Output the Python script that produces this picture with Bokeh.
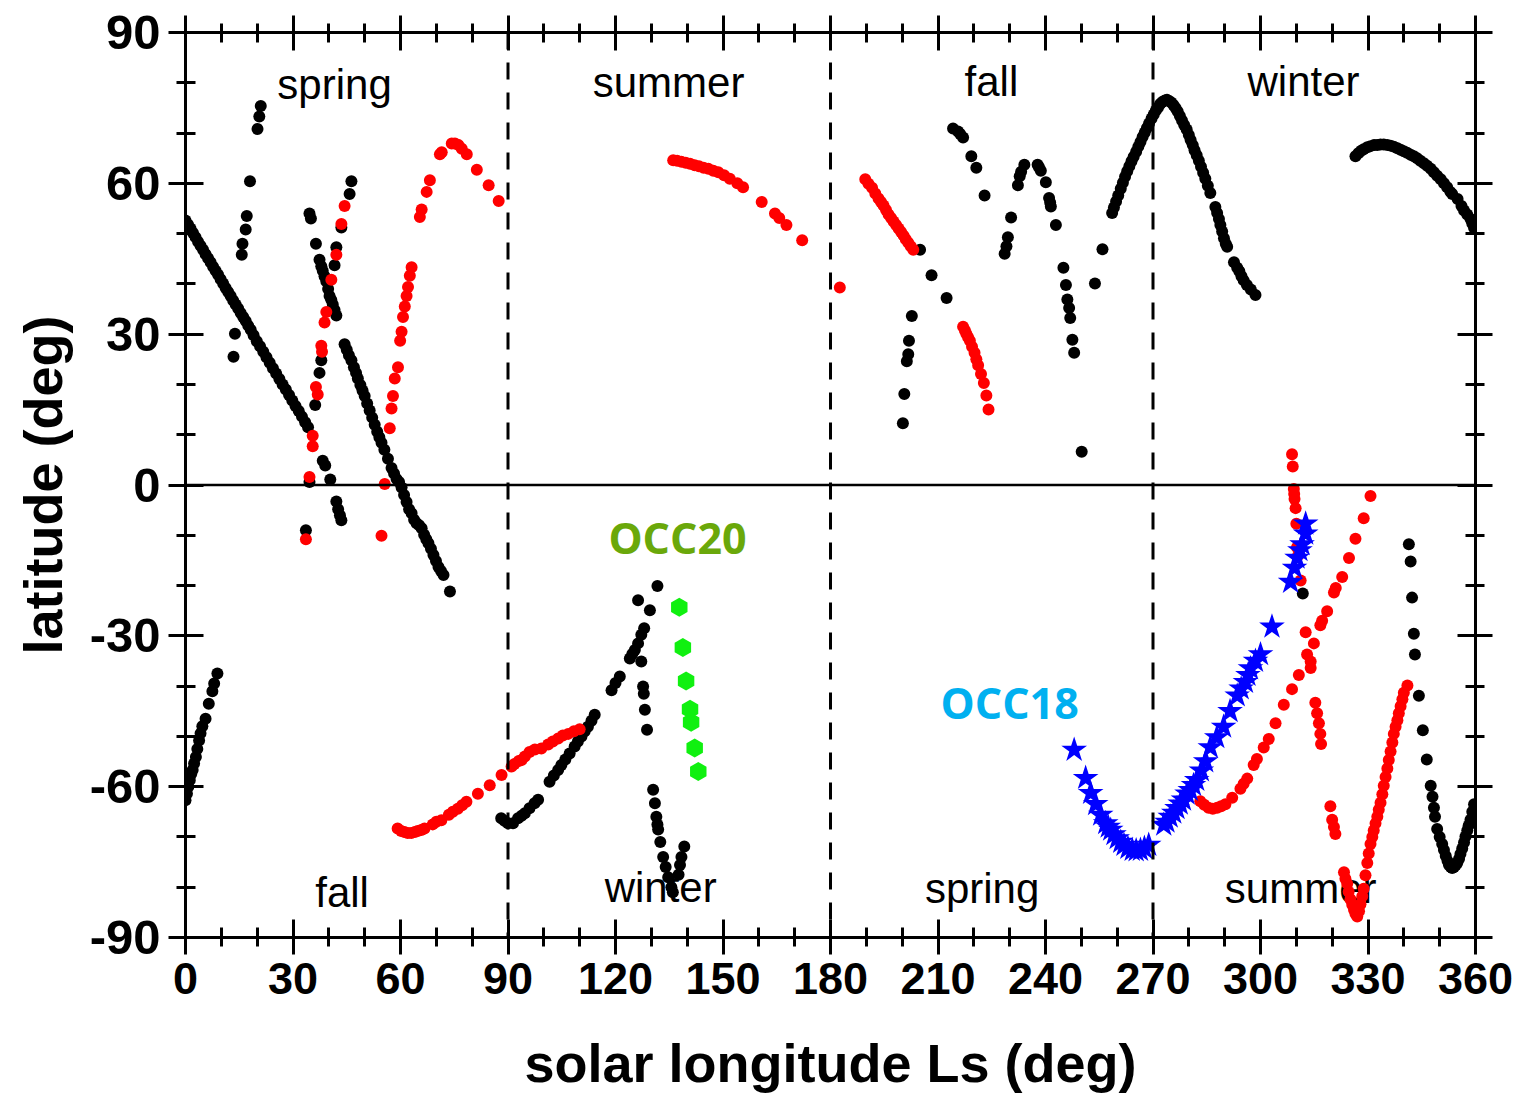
from bokeh.plotting import figure
from bokeh.models import LinearAxis, SingleIntervalTicker, Span, Range1d
from bokeh.embed import file_html
from bokeh.resources import INLINE
from bokeh.core.properties import value
import math

# ---------------- data ----------------
black_ls = [
    0, 0.7, 1.4, 2.1, 2.8, 3.5, 4.2, 4.9, 5.6, 6.3, 7.0, 7.7, 8.4, 9.1, 9.8, 10.5, 11.2, 11.9, 12.6, 13.3, 14.0, 14.7, 15.4, 16.1, 16.8, 17.5, 18.2,
    19.0, 19.9, 20.8, 21.7, 22.6, 23.5, 24.4, 25.3, 26.2, 27.1, 28.0, 28.9, 29.8, 30.7, 31.6, 32.5, 33.4, 34.2,
    38.3, 39.0, 40.4, 42.1, 42.6, 43.1, 43.5,
    44.4, 45.0, 45.6, 46.3, 47.0, 47.6, 48.1, 48.8, 49.4, 50.0, 50.7, 51.4, 52.1, 52.8, 53.5, 54.1, 54.7, 55.5, 56.5,
    57.5, 58.2, 58.9, 59.6, 60.3, 61.0, 61.7, 62.4, 63.1, 63.8, 64.5, 65.2, 65.9, 66.6, 67.2, 67.8, 68.5, 69.2, 69.9, 70.6, 71.3, 72.0, 73.8,
    34.6, 35.0, 36.4, 37.4, 37.9, 38.3, 38.8, 39.3, 39.8, 40.2, 40.7, 41.1, 41.6, 42.1,
    33.6, 34.6, 36.2, 37.4, 37.9, 41.6, 42.1, 43.5, 45.8, 46.3,
    13.4, 13.8, 15.7, 15.9, 16.8, 17.1, 18.0, 20.1, 20.6, 21.0,
    0.0, 0.4, 0.8, 1.2, 1.6, 2.0, 2.4, 2.9, 3.3, 3.8, 4.2, 4.7, 5.6, 6.5, 7.5, 8.0, 8.9,
    88.1, 89.0, 90.0, 91.4, 92.8, 93.8, 94.7, 96.0, 97.4, 98.4, 101.6, 102.8, 104.0, 104.9, 106.0, 107.2, 108.6, 109.5, 110.5, 111.4, 112.3, 113.3, 114.2,
    118.9, 120.0, 121.2, 124.0, 124.7, 125.4, 126.3, 127.2, 128.0, 126.3, 129.6, 131.7,
    127.2, 127.7, 127.9, 128.2, 128.8, 130.5, 131.0, 131.4, 131.7, 131.9, 132.5, 133.3, 134.0, 134.7, 135.6, 136.0, 137.6, 138.0, 138.4, 139.2,
    200.2, 200.6, 201.3, 201.7, 201.9, 202.7, 205.0, 208.2, 212.4, 214.2, 215.6, 216.2, 217.0, 219.3, 220.7, 223.0,
    228.6, 229.1, 229.5, 230.4, 232.3, 232.8, 233.2, 234.1, 237.8, 238.2, 238.7, 240.1, 241.0, 241.3, 241.5, 242.9,
    245.0, 245.7, 246.1, 246.6, 246.9, 247.5, 248.0, 250.1, 253.8, 255.9,
    258.6, 259.1, 259.7, 260.3, 261.0, 261.6, 262.2, 262.8, 263.4, 264.0, 264.6, 265.3, 265.9, 266.5, 267.1, 267.7, 268.3, 268.9, 269.6, 270.2,
    270.8, 271.4, 272.0, 272.6, 273.3, 273.9, 274.5, 275.1, 275.7, 276.3, 276.9, 277.5, 278.1, 278.7, 279.4, 280.0, 280.5, 281.1, 281.6, 282.2,
    282.8, 283.4, 284.0, 284.6, 285.3, 286.0,
    287.4, 287.9, 288.4, 288.8, 289.3, 289.8, 290.3, 290.7,
    292.6, 293.5, 294.1, 294.7, 295.3, 296.2, 297.3, 298.6,
    311.8,
    326.5, 327.3, 328.1, 328.8, 329.8, 330.7, 331.7, 332.6, 333.5, 334.4, 335.4, 336.3, 337.2, 338.2, 339.1, 340.0, 340.9, 341.9, 342.8, 343.7,
    344.6, 345.6, 346.5, 347.5, 348.4, 349.3, 350.3, 351.2, 352.1, 353.0, 353.5, 355.0, 356.1, 356.8, 357.7, 358.6, 359.1, 359.6,
    341.4, 341.9, 342.3, 342.8, 343.1, 344.2, 345.3, 346.4, 347.5, 348.0, 348.4, 348.7, 349.3, 350.0, 350.7, 351.2, 351.7, 352.2, 352.6, 353.1,
    353.5, 354.0, 354.5, 354.9, 355.4, 355.8, 356.3, 356.8, 357.2, 357.7, 358.1, 358.6, 359.1, 359.6,
]
black_lat = [
    52.6, 51.8, 51.0, 50.1, 49.3, 48.4, 47.6, 46.8, 45.9, 45.1, 44.3, 43.4, 42.6, 41.8, 40.9, 40.1, 39.2, 38.4, 37.6, 36.7, 35.9, 35.1, 34.2, 33.4, 32.6, 31.7, 30.9,
    29.8, 28.6, 27.6, 26.5, 25.4, 24.3, 23.2, 22.2, 21.1, 20.0, 19.0, 17.9, 16.8, 15.7, 14.7, 13.6, 12.5, 11.5,
    4.8, 3.9, 1.1, -3.3, -4.8, -6.0, -7.0,
    28.0, 26.9, 25.8, 24.8, 23.4, 22.3, 21.2, 19.9, 18.8, 17.7, 16.2, 14.8, 13.4, 12.0, 10.6, 9.5, 8.4, 7.0, 5.2,
    3.4, 2.3, 1.2, 0.6, -0.5, -2.0, -3.4, -4.8, -5.6, -6.9, -7.6, -8.0, -8.6, -9.9, -10.8, -11.6, -12.7, -13.9, -15.1, -16.3, -17.1, -17.9, -21.2,
    54.0, 53.0, 48.0, 44.8, 43.5, 42.6, 41.5, 40.5, 39.0, 37.6, 36.8, 35.9, 34.8, 33.7,
    -9.0, 0.6, 15.9, 22.3, 24.8, 43.7, 47.3, 51.2, 57.9, 60.4,
    25.5, 30.1, 45.8, 48.0, 50.8, 53.5, 60.4, 70.8, 73.3, 75.4,
    -62.7, -61.4, -60.0, -58.7, -57.5, -56.7, -55.4, -54.1, -52.5, -50.8, -49.4, -48.0, -46.5, -43.5, -41.0, -39.5, -37.5,
    -66.3, -66.8, -67.3, -67.3, -66.3, -65.8, -65.3, -64.3, -63.3, -62.6, -59.0, -57.8, -56.7, -55.7, -54.6, -53.4, -52.0, -51.0, -50.0, -49.0, -48.1, -46.9, -45.7,
    -40.8, -39.4, -38.1, -34.5, -33.6, -32.8, -31.5, -29.8, -28.5, -22.9, -24.9, -20.1,
    -35.1, -40.1, -41.5, -44.7, -48.7, -60.6, -63.3, -66.0, -67.5, -68.5, -71.0, -74.0, -76.0, -78.0, -80.0, -81.0, -77.5, -75.6, -74.0, -71.9,
    12.3, 18.1, 24.6, 26.0, 28.7, 33.6, 46.8, 41.7, 37.2, 70.9, 70.3, 69.8, 69.1, 65.4, 63.1, 57.6,
    46.0, 47.5, 49.3, 53.2, 59.6, 61.4, 62.3, 63.7, 63.7, 63.2, 62.5, 60.2, 57.1, 56.2, 55.4, 51.7,
    43.2, 39.8, 36.9, 35.2, 33.2, 28.9, 26.3, 6.6, 40.1, 46.9,
    54.1, 55.2, 56.4, 57.6, 58.9, 60.1, 61.3, 62.4, 63.4, 64.4, 65.3, 66.3, 67.3, 68.2, 69.2, 70.1, 71.0, 71.9, 72.9, 73.7,
    74.5, 75.1, 75.8, 76.2, 76.5, 76.6, 76.4, 76.1, 75.6, 75.0, 74.3, 73.4, 72.5, 71.6, 70.7, 69.6, 68.6, 67.6, 66.6, 65.6,
    64.5, 63.3, 62.1, 60.9, 59.5, 58.1,
    55.3, 54.1, 52.9, 51.7, 50.4, 49.1, 48.0, 47.4,
    44.3, 43.2, 42.5, 41.5, 40.7, 39.8, 38.9, 37.8,
    -21.6,
    65.4, 66.0, 66.5, 66.8, 67.2, 67.4, 67.6, 67.6, 67.7, 67.7, 67.6, 67.5, 67.3, 67.0, 66.7, 66.4, 66.1, 65.7, 65.4, 65.0,
    64.5, 64.0, 63.5, 62.9, 62.2, 61.5, 60.8, 60.0, 59.2, 58.3, 57.9, 56.9, 55.5, 54.6, 53.8, 52.9, 52.0, 51.1,
    -11.8, -15.2, -22.4, -29.6, -33.7, -41.9, -48.8, -54.6, -59.8, -62.0, -64.2, -66.0, -68.4, -70.0, -71.4, -72.6, -73.8, -74.8, -75.6, -76.0,
    -76.2, -76.0, -75.6, -75.2, -74.4, -73.4, -72.3, -71.1, -69.9, -68.7, -67.7, -66.6, -65.0, -63.5,
]

red_ls = [
    33.6, 34.6, 35.5, 35.5, 36.4, 36.9, 37.9, 38.1, 38.8, 39.3, 40.7, 42.1, 43.5, 44.4,
    54.7, 55.6,
    57.0, 57.5, 57.9, 58.4, 59.3, 59.9, 60.3, 60.7, 61.2, 61.7, 62.1, 62.6, 63.1,
    65.4, 65.9, 67.3, 68.2, 71.0, 71.5, 74.3, 75.2, 76.2, 77.1, 78.5, 81.3, 84.6, 87.4,
    59.2, 60.2, 61.1, 62.0, 63.0, 64.0, 64.8, 65.8, 66.7, 69.0, 70.0, 71.4, 73.5, 74.6, 76.0, 77.2, 78.4, 81.6, 84.9, 88.2,
    91.0, 91.8, 93.0, 93.8, 94.7, 96.0, 97.5, 99.3, 101.2, 102.5, 104.0, 105.3, 106.8, 108.4, 110.0,
    136.1, 137.2, 138.4, 139.6, 140.8, 142.1, 143.3, 144.6, 145.9, 147.3, 148.7, 150.3, 151.9, 154.0, 155.6, 160.8, 164.5, 165.7, 167.7, 172.1, 182.6,
    189.7, 190.6, 191.6, 192.5, 193.4, 194.1, 194.8, 195.5, 196.2, 196.9, 197.6, 198.3, 199.0, 199.7, 200.4, 201.0, 201.7, 202.4, 203.1,
    217.0, 217.5, 217.9, 218.4, 218.9, 219.5, 220.2, 220.7, 221.2, 222.0, 222.8, 223.5, 224.1,
    308.8, 309.0, 309.3, 309.4, 309.5, 309.8, 310.0, 310.2, 310.5, 311.2,
    312.6, 314.0, 314.0, 315.3, 315.8, 316.3, 316.7, 316.9, 319.5, 320.0, 320.5, 320.9,
    283.2, 284.3, 285.5, 286.7, 287.9, 289.0, 290.2, 292.1, 294.4, 295.3, 296.3, 298.1, 299.0, 300.9, 302.3, 304.2, 306.5, 308.8, 310.7, 313.0,
    314.9, 316.7, 317.2, 318.6, 320.5, 321.0, 322.8, 324.7, 326.5, 328.8, 330.7,
    323.3, 323.7, 324.2, 324.6, 325.1, 325.6, 326.1, 326.5, 327.0, 327.5, 327.9, 328.4, 328.8, 329.3, 329.8, 330.2, 330.7, 331.2, 331.6, 332.1,
    332.6, 333.0, 333.5, 334.0, 334.4, 334.9, 335.4, 335.8, 336.3, 336.8, 337.2, 337.7, 338.2, 338.6, 339.1, 339.6, 340.0, 341.0,
]
red_lat = [
    -10.8, 1.6, 7.7, 9.8, 19.5, 18.0, 27.7, 26.5, 32.3, 34.4, 40.8, 45.8, 51.9, 55.5,
    -10.1, 0.2,
    11.3, 15.2, 17.7, 21.2, 23.4, 28.7, 30.5, 33.4, 35.5, 37.6, 39.4, 41.6, 43.3,
    53.3, 54.8, 58.3, 60.6, 65.8, 66.2, 67.9, 67.9, 67.6, 66.9, 65.8, 62.7, 59.6, 56.5,
    -68.3, -68.8, -69.0, -69.2, -69.2, -69.0, -68.8, -68.6, -68.3, -67.5, -67.0, -66.7, -65.6, -65.0, -64.4, -63.7, -63.0, -61.4, -59.7, -57.7,
    -56.0, -55.5, -54.9, -54.7, -54.0, -53.1, -52.6, -52.4, -51.6, -51.0, -50.4, -49.8, -49.5, -49.0, -48.6,
    64.6, 64.5, 64.3, 64.1, 63.9, 63.6, 63.4, 63.1, 62.9, 62.5, 62.2, 61.6, 60.9, 60.0, 59.2, 56.3, 54.0, 53.1, 51.7, 48.7, 39.3,
    60.8, 59.9, 59.1, 58.0, 57.0, 56.3, 55.6, 54.7, 53.8, 53.1, 52.4, 51.7, 51.0, 50.3, 49.6, 48.9, 48.2, 47.5, 46.8,
    31.5, 30.8, 30.1, 29.4, 28.7, 27.5, 26.3, 25.0, 23.8, 22.1, 20.3, 17.8, 15.0,
    6.1, 3.7, -0.8, -1.8, -2.8, -4.6, -7.7, -12.4, -14.0, -19.0,
    -29.3, -35.1, -36.4, -43.3, -45.4, -47.4, -49.5, -51.5, -63.9, -66.6, -68.0, -69.4,
    -62.9, -63.6, -64.2, -64.4, -64.2, -63.9, -63.5, -62.2, -60.4, -59.4, -58.4, -55.7, -54.5, -52.2, -50.5, -47.4, -43.7, -40.6, -37.8, -33.7,
    -31.5, -27.9, -27.0, -25.1, -21.4, -20.5, -18.3, -14.5, -10.7, -6.6, -2.2,
    -77.0, -78.3, -79.3, -80.9, -82.4, -83.5, -84.5, -85.3, -85.8, -84.8, -83.4, -81.8, -80.3, -77.6, -75.2, -73.3, -71.4, -70.0, -68.7, -67.3,
    -66.0, -64.6, -63.2, -61.5, -59.8, -58.1, -56.4, -54.7, -53.0, -51.2, -49.5, -48.1, -46.8, -45.4, -44.0, -42.6, -41.3, -39.9,
]

occ18_ls = [248.0, 251.2, 252.6, 254.0, 255.4, 256.8, 257.5, 258.2, 259.1, 260.0, 261.0, 261.9, 263.0, 264.2, 265.3, 266.5, 267.6, 268.8,
            273.0, 273.9, 274.8, 275.8, 276.7, 277.6, 278.5, 279.5, 280.4, 281.3, 282.2, 283.5, 284.7, 286.0, 287.8, 289.7, 291.5,
            293.5, 294.6, 295.8, 296.5, 297.2, 298.6, 300.0, 303.2, 308.4, 309.5, 310.2, 311.0, 311.6, 312.6, 312.6]
occ18_lat = [-52.7, -58.3, -61.3, -63.5, -65.6, -67.3, -68.0, -68.6, -69.5, -70.3, -71.0, -71.6, -72.2, -72.6, -72.7, -72.6, -72.2, -71.6,
             -67.6, -67.0, -66.0, -65.2, -64.3, -63.4, -62.6, -61.4, -60.7, -59.7, -58.7, -56.8, -55.0, -52.2, -50.2, -48.1, -45.0,
             -41.9, -40.5, -39.2, -37.8, -36.5, -35.0, -33.7, -28.2, -19.3, -16.5, -14.5, -13.0, -11.8, -9.7, -7.7]

occ20_ls = [137.8, 138.8, 139.7, 140.8, 141.1, 142.1, 143.1]
occ20_lat = [-24.3, -32.3, -39.0, -44.6, -47.2, -52.3, -57.0]

season_text = ["spring", "summer", "fall", "winter", "fall", "winter", "spring", "summer"]
season_ls = [41.6, 134.8, 224.9, 312.0, 43.7, 132.6, 222.3, 311.2]
season_lat = [79.7, 80.1, 80.3, 80.3, -81.0, -80.0, -80.3, -80.2]

occ_text = ["OCC20", "OCC18"]
occ_ls = [137.3, 230.0]
occ_lat = [-10.5, -43.3]
occ_color = ["#6aa80a", "#00b0f0"]

season_bounds = [90, 180, 270]
y_tick_labels = {-90: "-90", -60: "-60", -30: "-30", 0: "0", 30: "30", 60: "60", 90: "90"}
x_ticks_major = 30
y_ticks_major = 30

# ---------------- figure ----------------
AXFONT = "Liberation Sans"

p = figure(width=1522, height=1097, x_range=Range1d(0, 360), y_range=Range1d(-90, 90),
           output_backend="svg", toolbar_location=None,
           x_axis_location=None, y_axis_location=None,
           min_border_left=185, min_border_right=47, min_border_top=32, min_border_bottom=160)
p.outline_line_color = None
p.background_fill_color = "white"
p.border_fill_color = "white"
for g in p.grid:
    g.visible = False


def style_axis(ax, labels=True, lab_size="48px"):
    ax.axis_line_width = 3
    ax.axis_line_color = "black"
    ax.major_tick_line_width = 3
    ax.minor_tick_line_width = 3
    ax.major_tick_line_color = "black"
    ax.minor_tick_line_color = "black"
    ax.major_tick_in = 18
    ax.major_tick_out = 17
    ax.minor_tick_in = 10
    ax.minor_tick_out = 9
    if labels:
        ax.major_label_text_font = AXFONT
        ax.major_label_text_font_style = "bold"
        ax.major_label_text_font_size = lab_size
        ax.major_label_text_color = "black"
    else:
        ax.major_label_text_font_size = "1px"
        ax.major_label_text_color = None


xb = LinearAxis(ticker=SingleIntervalTicker(interval=x_ticks_major, num_minor_ticks=3))
style_axis(xb, True, "45px")
xb.major_label_standoff = 8
xb.axis_label = "solar longitude Ls (deg)"
xb.axis_label_text_font = AXFONT
xb.axis_label_text_font_style = "bold"
xb.axis_label_text_font_size = "54px"
xb.axis_label_text_color = "black"
xb.axis_label_standoff = 36
p.add_layout(xb, "below")

yl = LinearAxis(ticker=SingleIntervalTicker(interval=y_ticks_major, num_minor_ticks=3))
style_axis(yl, True, "49px")
yl.major_label_overrides = y_tick_labels
yl.major_label_standoff = 8
yl.axis_label = "latitude (deg)"
yl.axis_label_text_font = AXFONT
yl.axis_label_text_font_style = "bold"
yl.axis_label_text_font_size = "54px"
yl.axis_label_text_color = "black"
yl.axis_label_standoff = 14
p.add_layout(yl, "left")

xt = LinearAxis(ticker=SingleIntervalTicker(interval=x_ticks_major, num_minor_ticks=3))
style_axis(xt, False)
p.add_layout(xt, "above")

yr = LinearAxis(ticker=SingleIntervalTicker(interval=y_ticks_major, num_minor_ticks=3))
style_axis(yr, False)
p.add_layout(yr, "right")

# zero line and season boundaries
p.add_layout(Span(location=0, dimension="width", line_color="black", line_width=2.5))
for b in season_bounds:
    p.add_layout(Span(location=b, dimension="height", line_color="black", line_width=3, line_dash="17 13"))

# season labels (behind the data)
p.text(x=season_ls, y=season_lat, text=season_text, text_font=value("Liberation Sans"),
       text_font_size="42px", text_align="center", text_baseline="alphabetic", text_color="black")

# data
p.scatter(black_ls, black_lat, marker="circle", size=12, fill_color="black", line_color=None)
p.scatter(red_ls, red_lat, marker="circle", size=12, fill_color="#ff0000", line_color=None)
p.scatter(occ20_ls, occ20_lat, marker="hex", size=19, angle=math.pi / 6, fill_color="#10f010", line_color=None)
p.scatter(occ18_ls, occ18_lat, marker="star", size=27, fill_color="#0000ff", line_color=None)

# occultation labels
p.text(x=occ_ls, y=occ_lat, text=occ_text, text_font=value("Open Sans"), text_font_style="bold",
       text_font_size="43px", text_align="center", text_baseline="alphabetic", text_color=occ_color)

open("out.html", "w").write(file_html(p, INLINE))
